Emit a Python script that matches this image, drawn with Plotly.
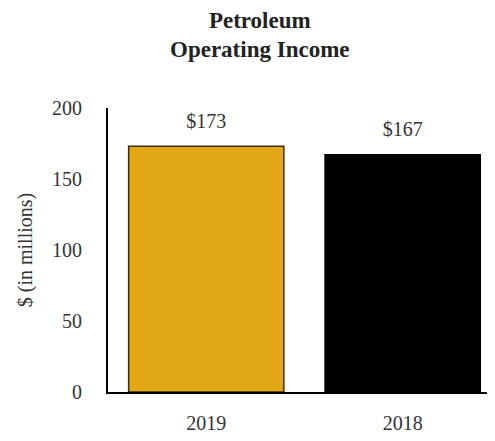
import plotly.graph_objects as go

years = ["2019", "2018"]
income = [173, 167]
labels = ["$173", "$167"]
bar_colors = ["#E1A714", "#000000"]
line_colors = ["#3A2A05", "#000000"]

serif = "Liberation Serif, Times New Roman, serif"
grey = "#333333"

fig = go.Figure()
fig.add_trace(go.Bar(
    x=years,
    y=income,
    marker=dict(color=bar_colors, line=dict(color=line_colors, width=1.5)),
    width=0.79,
    hoverinfo="skip",
))

# value labels above the bars: invisible markers push the text up a bit
fig.add_trace(go.Scatter(
    x=years,
    y=income,
    mode="markers+text",
    text=labels,
    textposition="top center",
    textfont=dict(family=serif, size=20, color=grey),
    marker=dict(size=20, opacity=0),
    cliponaxis=False,
    hoverinfo="skip",
))

# the page body has an 8px margin, so the figure is a bit smaller than the window
fig.update_layout(
    width=487,
    height=433,
    paper_bgcolor="white",
    plot_bgcolor="white",
    margin=dict(l=100, r=0, t=100, b=49),
    showlegend=False,
    font=dict(family=serif, size=20, color=grey),
    title=dict(
        text="<b>Petroleum</b><br><b>Operating Income</b>",
        x=0.517, xanchor="center", y=0.955, yanchor="top",
        font=dict(family=serif, size=23, color="#222222"),
    ),
    xaxis=dict(
        type="category",
        range=[-0.5, 1.47],
        showline=True, linecolor="black", linewidth=2,
        ticks="outside", ticklen=12, tickcolor="rgba(0,0,0,0)",
        showgrid=False, zeroline=False,
        tickfont=dict(family=serif, size=20, color=grey),
    ),
    yaxis=dict(
        range=[0, 200],
        tickvals=[0, 50, 100, 150, 200],
        showline=True, linecolor="black", linewidth=2,
        ticks="outside", ticklen=20, tickcolor="rgba(0,0,0,0)",
        showgrid=False, zeroline=False,
        tickfont=dict(family=serif, size=20, color=grey),
        title=dict(text="$ (in millions)", standoff=14,
                   font=dict(family=serif, size=20, color=grey)),
    ),
)

fig.write_html("out.html")
